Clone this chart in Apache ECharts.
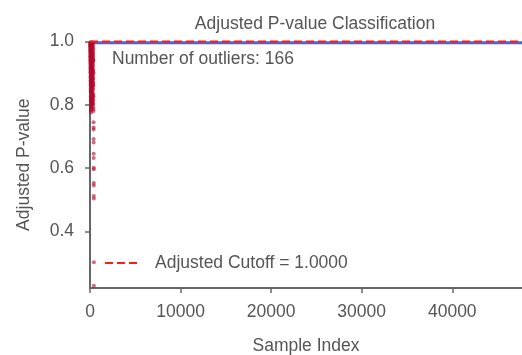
<!DOCTYPE html>
<html>
<head>
<meta charset="utf-8">
<script src="https://cdn.jsdelivr.net/npm/echarts@6/dist/echarts.min.js"></script>
<style>
  html, body { margin: 0; padding: 0; background: #fff; }
  #chart { width: 522px; height: 355px; }
</style>
</head>
<body>
<div id="chart"></div>
<script>
// Samples flagged as outliers: position in the run and their adjusted p-value
const outlierIndex = [
  2, 4, 7, 9, 12, 14, 17, 19, 23, 25, 28, 30, 33, 36, 38,
  41, 43, 46, 49, 51, 54, 56, 59, 62, 64, 67, 70, 72, 75, 77,
  80, 83, 85, 88, 91, 93, 96, 98, 101, 104, 106, 109, 111, 114, 117,
  119, 122, 124, 127, 130, 132, 135, 137, 140, 143, 145, 148, 150, 153, 156,
  158, 161, 163, 166, 169, 171, 174, 176, 179, 182, 184, 187, 189, 192, 195,
  197, 200, 202, 205, 208, 210, 213, 215, 218, 221, 223, 226, 228, 231, 234,
  236, 239, 241, 244, 247, 249, 252, 254, 257, 260, 262, 265, 267, 270, 273,
  275, 278, 280, 283, 286, 288, 291, 293, 296, 299, 301, 304, 306, 309, 312,
  314, 317, 319, 322, 325, 327, 330, 332, 335, 338, 340, 343, 345, 348, 351,
  353, 356, 358, 361, 364, 366, 369, 371, 374, 377, 379, 382, 384, 387, 390,
  392, 395, 397, 400, 403, 405, 408, 410, 413, 416, 418, 421, 423, 426, 429, 431
];
const outlierPValue = [
  0.993, 0.981, 0.967, 0.988, 0.952, 0.974, 0.941, 0.996, 0.929, 0.958, 0.915, 0.984, 0.903, 0.946, 0.972,
  0.889, 0.936, 0.961, 0.877, 0.922, 0.990, 0.864, 0.908, 0.953, 0.851, 0.897, 0.978, 0.842, 0.884, 0.933,
  0.826, 0.871, 0.965, 0.813, 0.859, 0.918, 0.802, 0.846, 0.986, 0.791, 0.835, 0.904, 0.783, 0.821, 0.949,
  0.776, 0.808, 0.892, 0.962, 0.797, 0.868, 0.938, 0.785, 0.855, 0.926, 0.994, 0.817, 0.879, 0.957, 0.831,
  0.912, 0.970, 0.844, 0.899, 0.983, 0.862, 0.927, 0.805, 0.874, 0.944, 0.789, 0.857, 0.919, 0.998, 0.838,
  0.906, 0.975, 0.824, 0.893, 0.955, 0.811, 0.881, 0.940, 0.799, 0.866, 0.931, 0.987, 0.848, 0.914, 0.968,
  0.833, 0.901, 0.959, 0.819, 0.886, 0.947, 0.806, 0.873, 0.934, 0.992, 0.858, 0.921, 0.979, 0.841, 0.910,
  0.963, 0.828, 0.895, 0.951, 0.815, 0.882, 0.943, 0.800, 0.869, 0.930, 0.989, 0.853, 0.916, 0.971, 0.837,
  0.905, 0.960, 0.822, 0.890, 0.948, 0.809, 0.876, 0.937, 0.794, 0.863, 0.924, 0.985, 0.849, 0.911, 0.966,
  0.832, 0.898, 0.954, 0.816, 0.883, 0.942, 0.803, 0.870, 0.997, 0.780, 0.939, 0.861, 0.976, 0.827, 0.902,
  0.787, 0.745, 0.728, 0.722, 0.692, 0.681, 0.645, 0.632, 0.601, 0.596, 0.553, 0.545, 0.512, 0.504, 0.302, 0.228
];

// The remaining samples all sit at the top of the scale
const normalIndex = [0, 47700];
const normalPValue = [0.996, 0.996];

const cutoff = 1.0;
const cutoffLabel = 'Adjusted Cutoff = ' + cutoff.toFixed(4);
const xTicks = [0, 10000, 20000, 30000, 40000];
const yTicks = [0.4, 0.6, 0.8, 1.0];

const outlierData = outlierIndex.map((x, i) => [x, outlierPValue[i]]);
const normalData = normalIndex.map((x, i) => [x, normalPValue[i]]);
const cutoffData = [[normalIndex[0], cutoff], [normalIndex[1], cutoff]];

const textColor = '#555';
const axisColor = '#666';
const cutoffColor = '#ff1a1a';
const font = 'Liberation Sans, Arial, Helvetica, sans-serif';
const fs = 17.5;

const chart = echarts.init(document.getElementById('chart'));
chart.setOption({
  animation: false,
  backgroundColor: '#fff',
  textStyle: { fontFamily: font, color: textColor },
  title: {
    text: 'Adjusted P-value Classification',
    left: 310, top: 10, textAlign: 'center',
    textStyle: { fontFamily: font, fontSize: fs, fontWeight: 'normal', color: textColor }
  },
  grid: {
    left: 90, right: 0, top: 41.5, bottom: 67,
    containLabel: false, outerBoundsMode: 'none'
  },
  xAxis: {
    type: 'value', min: 0, max: 47700,
    name: 'Sample Index', nameLocation: 'middle', nameGap: 49,
    nameTextStyle: { fontFamily: font, fontSize: fs, color: textColor },
    axisLine: { onZero: false, lineStyle: { color: axisColor, width: 2 } },
    axisTick: { customValues: xTicks, length: 5, lineStyle: { color: axisColor, width: 1.5 } },
    axisLabel: {
      customValues: xTicks, margin: 15, fontSize: fs, color: textColor, fontFamily: font,
      formatter: v => String(v)
    },
    splitLine: { show: false }
  },
  yAxis: {
    type: 'value', min: 0.221, max: 1.0,
    name: 'Adjusted P-value', nameLocation: 'middle', nameGap: 57, nameRotate: 90,
    nameTextStyle: { fontFamily: font, fontSize: fs, color: textColor },
    axisLine: { lineStyle: { color: axisColor, width: 2 } },
    axisTick: { customValues: yTicks, length: 5, lineStyle: { color: axisColor, width: 1.5 } },
    axisLabel: {
      customValues: yTicks, margin: 16, fontSize: fs, color: textColor, fontFamily: font,
      formatter: v => v.toFixed(1)
    },
    splitLine: { show: false }
  },
  graphic: [
    {
      type: 'text', left: 112, top: 50,
      style: { text: 'Number of outliers: ' + outlierIndex.length, font: fs + 'px ' + font, fill: textColor }
    },
    // key for the cutoff line
    {
      type: 'line', shape: { x1: 105, y1: 263, x2: 141, y2: 263 },
      style: { stroke: cutoffColor, lineWidth: 2, lineDash: [8, 4] }
    },
    {
      type: 'text', left: 155, top: 254,
      style: { text: cutoffLabel, font: fs + 'px ' + font, fill: textColor }
    }
  ],
  series: [
    {
      name: 'Normal', type: 'line', data: normalData, symbol: 'none',
      lineStyle: { color: 'rgba(65,80,200,0.9)', width: 3 }, z: 2
    },
    {
      name: 'Outliers', type: 'scatter', data: outlierData, symbolSize: 4,
      itemStyle: { color: 'rgba(180,8,45,0.75)' }, z: 3
    },
    {
      name: cutoffLabel, type: 'line', data: cutoffData, symbol: 'none',
      lineStyle: { color: cutoffColor, width: 1.8, type: [8, 4] },
      z: 4, clip: false
    }
  ]
});
</script>
</body>
</html>
